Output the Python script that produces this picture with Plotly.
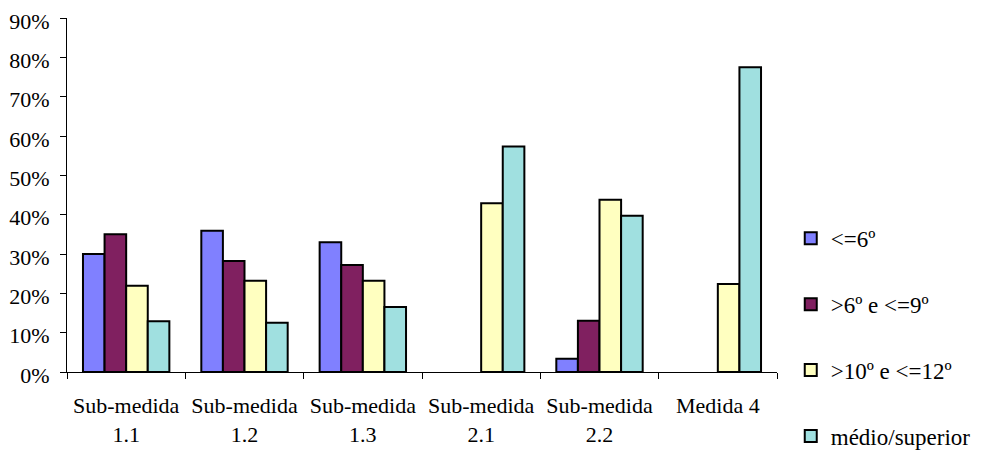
import plotly.graph_objects as go

categories = ["Sub-medida<br>1.1", "Sub-medida<br>1.2", "Sub-medida<br>1.3",
              "Sub-medida<br>2.1", "Sub-medida<br>2.2", "Medida 4"]
series_names = ["<=6º", ">6º e <=9º", ">10º e <=12º", "médio/superior"]
ate_6 = [30.0, 35.9, 33.0, None, 3.4, None]
de_6_a_9 = [35.0, 28.2, 27.2, None, 13.0, None]
de_10_a_12 = [21.9, 23.2, 23.2, 42.9, 43.8, 22.4]
medio_superior = [12.9, 12.5, 16.5, 57.3, 39.7, 77.5]
y_ticks = [0, 10, 20, 30, 40, 50, 60, 70, 80, 90]

colors = ["#8080FF", "#802060", "#FFFFC0", "#A0E0E0"]
values = [ate_6, de_6_a_9, de_10_a_12, medio_superior]

fig = go.Figure()
for i, (name, vals) in enumerate(zip(series_names, values)):
    fig.add_trace(go.Bar(
        x=categories,
        y=vals,
        name=name,
        legendgroup=str(i),
        marker=dict(color=colors[i], line=dict(color="black", width=2)),
    ))

font = dict(family="Times New Roman, Liberation Serif, serif", size=22, color="black")
legend_font = dict(family="Times New Roman, Liberation Serif, serif", size=23, color="black")

# page body has an 8px margin, so the figure is a bit smaller than the window
fig.update_layout(
    width=976,
    height=448,
    barmode="group",
    bargap=0.27,
    bargroupgap=0,
    plot_bgcolor="white",
    paper_bgcolor="white",
    font=font,
    margin=dict(l=59, r=207, t=10, b=84),
    legend=dict(
        xref="container", yref="container",
        x=0.802, y=0.265, xanchor="left", yanchor="middle",
        traceorder="grouped", tracegroupgap=33,
        font=legend_font, itemwidth=30, maxheight=440,
    ),
    xaxis=dict(
        showline=True, linecolor="black", linewidth=1,
        ticks="outside", ticklen=6, tickcolor="black",
        tickson="boundaries", showgrid=False, automargin=False,
        tickfont=font, ticklabelstandoff=14,
    ),
    yaxis=dict(
        range=[0, 90], tickvals=y_ticks,
        ticktext=[f"{v}%" for v in y_ticks],
        showline=True, linecolor="black", linewidth=1,
        ticks="outside", ticklen=6, tickcolor="black",
        showgrid=False, zeroline=False, automargin=False,
        tickfont=font, ticklabelstandoff=6, ticklabeloverflow="allow",
        ticklabelshift=3,
    ),
)

fig.write_html("out.html")
